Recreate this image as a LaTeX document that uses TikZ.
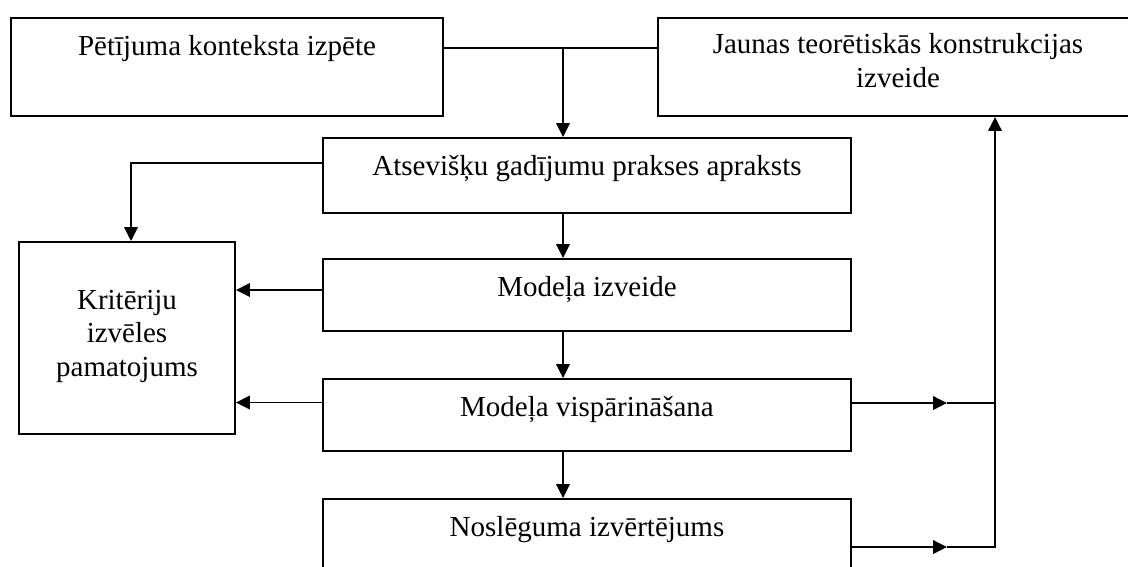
\documentclass[tikz,border=0pt]{standalone}
\usepackage{fontspec}
\setmainfont{Liberation Serif}
\usetikzlibrary{arrows.meta}
\usetikzlibrary{calc}

\tikzset{
    box/.style={draw, line width=1.1pt, inner sep=0pt},
    tx/.style={anchor=base, yshift=#1, align=center, inner sep=0pt,
        font=\fontsize{16.5}{19}\selectfont},
    tx/.default=-0.76cm,
    arr/.style={-{Triangle[length=0.28cm,width=0.27cm]}},
}

\begin{document}
\begin{tikzpicture}[x=0.02cm, y=-0.02cm, line width=1.1pt]
    \useasboundingbox (0,0) rectangle (1128,566);
    \node[box, minimum width=8.64cm, minimum height=1.96cm,
        label={[tx]north:Pētījuma konteksta izpēte}] (konteksts) at (227,67) {};
    \node[box, minimum width=9.6cm, minimum height=1.96cm,
        label={[tx=-1.4cm]north:Jaunas teorētiskās konstrukcijas\\izveide}] (teorija) at (898,67) {};
    \node[box, minimum width=10.56cm, minimum height=1.5cm,
        label={[tx]north:Atsevišķu gadījumu prakses apraksts}] (apraksts) at (587,175.5) {};
    \node[box, minimum width=4.32cm, minimum height=3.84cm,
        label={[tx=-2.7cm]north:Kritēriju\\izvēles\\pamatojums}] (kriteriji) at (127,338) {};
    \node[box, minimum width=10.56cm, minimum height=1.44cm,
        label={[tx]north:Modeļa izveide}] (izveide) at (587,295) {};
    \node[box, minimum width=10.56cm, minimum height=1.44cm,
        label={[tx]north:Modeļa vispārināšana}] (vispar) at (587,415) {};
    \node[box, minimum width=10.56cm, minimum height=1.44cm,
        label={[tx]north:Noslēguma izvērtējums}] (izvert) at (587,535) {};

    % main column and the branches
    \coordinate (top) at (563,48);
    \coordinate (tipx) at (947,0);
    \coordinate (rail) at (995,0);
    \coordinate (a1) at ($(apraksts.west)+(0,-12.5)$);
    \coordinate (e1) at ($(izveide.west)+(0,-5)$);
    \coordinate (v1) at ($(vispar.west)+(0,-12.5)$);
    \coordinate (v2) at ($(vispar.east)+(0,-12)$);
    \coordinate (n2) at ($(izvert.east)+(0,12)$);
    \draw (konteksts.east |- top) -- (teorija.west |- top);
    \draw[arr] (top) -- (top |- apraksts.north);
    \draw[arr] (top |- apraksts.south) -- (top |- izveide.north);
    \draw[arr] (top |- izveide.south) -- (top |- vispar.north);
    \draw[arr] (top |- vispar.south) -- (top |- izvert.north);
    \draw[arr] (a1) -| ($(kriteriji.north)+(4,0)$);
    \draw[arr] (e1) -- (e1 -| kriteriji.east);
    \draw[arr] (v1) -- (v1 -| kriteriji.east);
    \draw[arr] (v2) -- (v2 -| tipx);
    \draw (v2 -| tipx) -- (v2 -| rail);
    \draw[arr] (n2) -- (n2 -| tipx);
    \draw[arr] (n2 -| tipx) -- (n2 -| rail) -- (rail |- teorija.south);
\end{tikzpicture}
\end{document}
